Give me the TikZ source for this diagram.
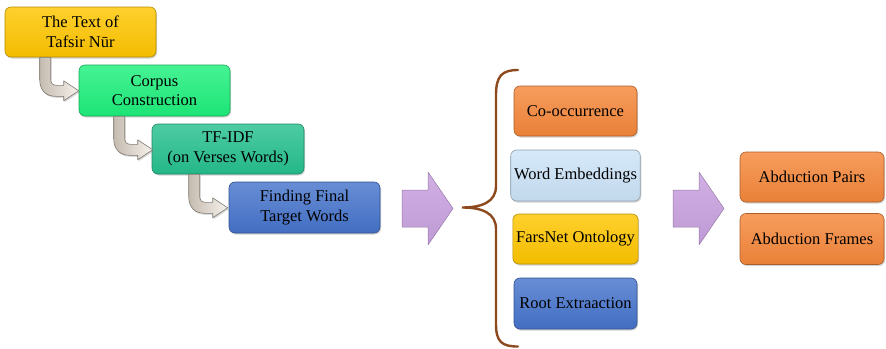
\documentclass[tikz,border=0pt]{standalone}
\usepackage{fontspec}
\setmainfont{Liberation Serif}
\newfontfamily\tnr{Liberation Serif}
\usetikzlibrary{calc,shadows}
\definecolor{cyel}{HTML}{FFC600}
\definecolor{cgrn}{HTML}{1EF07C}
\definecolor{cteal}{HTML}{26C08F}
\definecolor{cblue}{HTML}{4674CC}
\definecolor{corg}{HTML}{F5873A}
\definecolor{clblue}{HTML}{CCE4F8}
\definecolor{cbrown}{HTML}{8C4A1E}
\definecolor{cpurp}{HTML}{C9A2E0}
\definecolor{cbeige}{HTML}{E8DDD0}
\tikzset{
  box/.style={draw=#1!70!black, line width=0.6pt, rounded corners=6pt,
    top color=#1!82!white, bottom color=#1!95!black, align=center, text=black,
    font=\tnr\fontsize{16.5}{19.5}\selectfont,
    drop shadow={opacity=0.35, shadow xshift=1pt, shadow yshift=-1.5pt}},
  bentarrow/.pic={
    \fill[gray, opacity=0.3, shift={(1,1.5)}] (0,0) -- (0,22) .. controls (0,33) and (6,39) .. (16,39) -- (24,39) -- (24,43.5) -- (39,33.5) -- (24,23.5) -- (24,28) -- (17,28) .. controls (13,28) and (11,26) .. (11,22) -- (11,0) -- cycle;
    \draw[draw=cbeige!55!black, line width=0.6pt, left color=cbeige!85!black, right color=cbeige!40!white, line join=round]
      (0,0) -- (0,22) .. controls (0,33) and (6,39) .. (16,39) -- (24,39) -- (24,43.5) -- (39,33.5) -- (24,23.5) -- (24,28) -- (17,28) .. controls (13,28) and (11,26) .. (11,22) -- (11,0) -- cycle;
  },
  bigarrow/.pic={
    \draw[draw=cpurp!75!black, line width=0.5pt, top color=cpurp!85!white, bottom color=cpurp!95!black, line join=round]
      (0,-18.5) -- (26,-18.5) -- (26,-36.5) -- (51,0) -- (26,36.5) -- (26,18.5) -- (0,18.5) -- cycle;
  }
}
\begin{document}
\begin{tikzpicture}[x=1pt,y=-1pt]
\useasboundingbox (0,0) rectangle (886,348);
% left staircase
\node[box=cyel, minimum width=151pt, minimum height=50pt] (b1) at (80.5,32) {The Text of\\Tafsir Nūr};
\node[box=cgrn, minimum width=151pt, minimum height=51pt] (b2) at (154.5,90.5) {Corpus\\Construction};
\node[box=cteal, minimum width=152pt, minimum height=50pt] (b3) at (228,149) {TF-IDF\\(on Verses Words)};
\node[box=cblue, minimum width=151pt, minimum height=51pt] (b4) at (304.5,207.5) {Finding Final\\Target Words};
\pic at ($(b1.south west)+(35,0)$) {bentarrow};
\pic at ($(b2.south west)+(35,0)$) {bentarrow};
\pic at ($(b3.south west)+(37,0)$) {bentarrow};
% big arrows
\pic at (402,208.5) {bigarrow};
\pic at (673,208.5) {bigarrow};
% brace
\draw[cbrown, line width=2.4pt, line cap=round]
  (518,70) .. controls (502,70) and (496,76) .. (496,95) -- (496,186)
  .. controls (496,202) and (482,207.5) .. (462,207.5)
  .. controls (482,207.5) and (496,213) .. (496,229) -- (496,324)
  .. controls (496,342) and (502,346.5) .. (518,346.5);
% middle column
\node[box=corg, minimum width=123pt, minimum height=50pt] (m1) at (575.5,111) {Co-occurrence};
\node[box=clblue, minimum width=123pt, minimum height=51pt] (m2) at (575.5,175.5) {Word Embeddings};
\node[box=cyel, minimum width=123pt, minimum height=50pt] (m3) at (575.5,239) {FarsNet Ontology};
\node[box=cblue, minimum width=123pt, minimum height=51pt] (m4) at (575.5,303.5) {Root Extraaction};
% right column
\node[box=corg, minimum width=144pt, minimum height=50pt] (r1) at (812,177) {Abduction Pairs};
\node[box=corg, minimum width=144pt, minimum height=51pt] (r2) at (812,239) {Abduction Frames};
\end{tikzpicture}
\end{document}
